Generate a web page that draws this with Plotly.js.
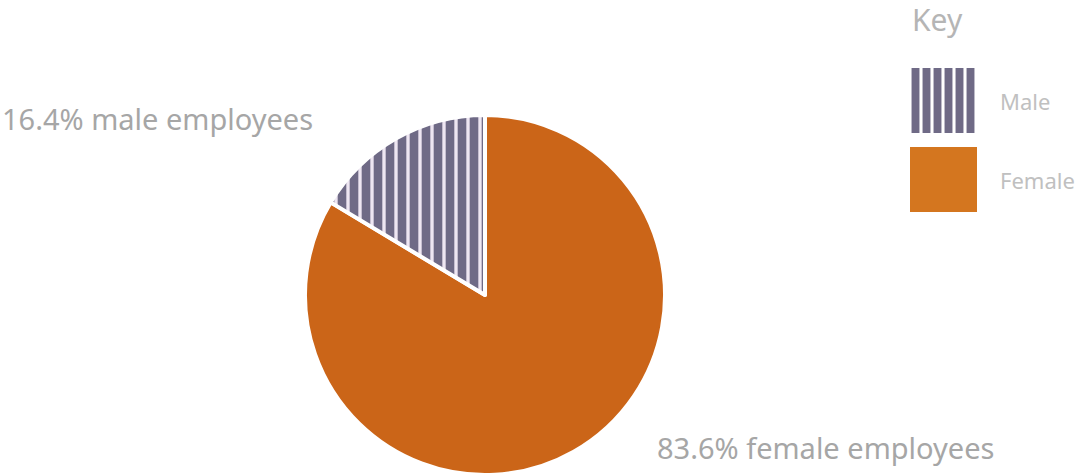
<!DOCTYPE html>
<html>
<head>
<meta charset="utf-8">
<script src="https://cdn.plot.ly/plotly-3.0.1.min.js"></script>
<style>html,body{margin:0;padding:0;background:#fff}#chart{width:1082px;height:475px}</style>
</head>
<body>
<div id="chart"></div>
<script>
const categories = ["Male", "Female"];
const shares = [16.4, 83.6];
const labelWords = ["male employees", "female employees"];
const legendTitle = "Key";

const FONT = "Noto Sans, sans-serif";
const stripeDark = "#6f6a86";
const stripeLight = "#eee6f2";
const orange = "#cb6518";
const orangeKey = "#d4761f";

const sliceColors = [stripeDark, orange];
const sliceShapes = ["|", ""];
const rev = a => a.slice().reverse();

const pie = {
  type: "pie",
  labels: rev(categories),
  values: rev(shares),
  sort: false,
  direction: "clockwise",
  rotation: 0,
  textinfo: "none",
  hoverinfo: "label+percent",
  showlegend: false,
  marker: {
    colors: rev(sliceColors),
    line: {color: "#ffffff", width: 4},
    pattern: {
      shape: rev(sliceShapes),
      bgcolor: stripeLight,
      fgcolor: rev(sliceColors),
      size: 12,
      solidity: 0.72
    }
  },
  domain: {x: [305/1082, 665/1082], y: [0, 360/475]}
};

const key = {
  type: "bar",
  orientation: "h",
  y: categories,
  x: categories.map(() => 1),
  xaxis: "x2",
  yaxis: "y2",
  width: 0.83,
  showlegend: false,
  hoverinfo: "y",
  marker: {
    color: [stripeDark, orangeKey],
    line: {width: 0},
    pattern: {
      shape: sliceShapes,
      bgcolor: stripeLight,
      fgcolor: [stripeDark, orangeKey],
      size: 11,
      solidity: 0.72
    }
  }
};

const annotations = [
  {text: `${shares[0]}% ${labelWords[0]}`, x: 0, y: 1 - 118/475, xanchor: "left", yanchor: "middle"},
  {text: `${shares[1]}% ${labelWords[1]}`, x: 655/1082, y: 1 - 447/475, xanchor: "left", yanchor: "middle"},
].map(a => Object.assign(a, {xref: "paper", yref: "paper", showarrow: false,
  font: {family: FONT, size: 29, color: "#a6a6a6"}}));

annotations.push({text: legendTitle, x: 910/1082, y: 1 - 19/475, xref: "paper", yref: "paper",
  xanchor: "left", yanchor: "middle", showarrow: false,
  font: {family: FONT, size: 30, color: "#b5b5b5"}});

categories.forEach((c, i) => {
  annotations.push({text: c, x: 1, y: c, xref: "x2", yref: "y2", xanchor: "left", yanchor: "middle",
    xshift: 21, showarrow: false, font: {family: FONT, size: 22, color: "#c0c0c0"}});
});

const layout = {
  width: 1082, height: 475,
  margin: {l: 0, r: 0, t: 0, b: 0},
  paper_bgcolor: "#ffffff",
  plot_bgcolor: "rgba(0,0,0,0)",
  showlegend: false,
  xaxis2: {domain: [910/1082, 977/1082], range: [0, 1], visible: false, fixedrange: true},
  yaxis2: {domain: [1 - 219/475, 1 - 61/475], range: [1.5, -0.5], visible: false, fixedrange: true},
  bargap: 0,
  annotations: annotations
};

Plotly.newPlot("chart", [pie, key], layout, {displayModeBar: false, staticPlot: true});
</script>
</body>
</html>
